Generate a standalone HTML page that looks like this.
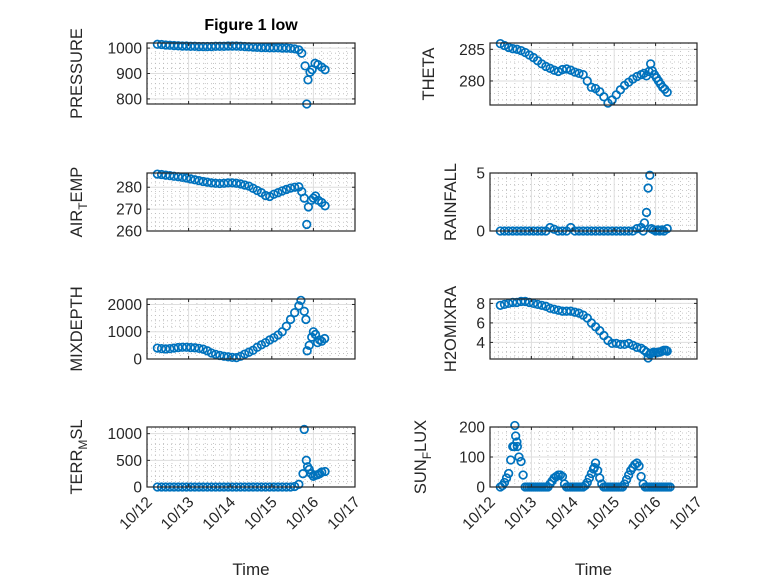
<!DOCTYPE html>
<html><head><meta charset="utf-8"><style>
html,body{margin:0;padding:0;background:#fff;}
svg{display:block;font-family:"Liberation Sans",sans-serif;}
</style></head><body>
<svg id="fig" width="778" height="583" viewBox="0 0 778 583" xmlns="http://www.w3.org/2000/svg">
<rect width="778" height="583" fill="#fff"/>
<text x="251" y="30" text-anchor="middle" font-size="16" font-weight="bold" fill="#000">Figure 1 low</text>
</svg>
<script>
// ---- data (time in days since 10/12 00:00) ----
const xTickLabels = ["10/12","10/13","10/14","10/15","10/16","10/17"];
const baseTimes = [0.25,0.35,0.45,0.55,0.65,0.75,0.85,0.95,1.05,1.15,1.25,1.35,1.45,1.55,1.65,1.75,1.85,1.95,2.05,2.15,2.25,2.35,2.45,2.55,2.65,2.75,2.85,2.95,3.05,3.15,3.25,3.35,3.45,3.55,3.65];

const pressureVals = [1015,1014,1012,1011,1010,1009,1008,1008,1007,1007,1006,1006,1006,1006,1007,1007,1007,1008,1008,1008,1007,1006,1005,1004,1003,1002,1002,1001,1001,1001,1000,1000,999,997,993];
const pressureTailT = [3.72,3.8,3.84,3.87,3.92,3.97,4.04,4.11,4.2,4.28];
const pressureTailV = [980,930,780,875,905,915,940,935,925,915];

const airTempVals = [286,285.8,285.5,285.3,285,284.8,284.5,284.2,283.8,283.4,283,282.6,282.3,282,281.8,281.7,281.8,282,282,281.8,281.5,281,280.5,279.5,278.5,277.5,276.2,275.8,276.8,277.5,278.3,279,279.6,280,280.2];
const airTempTailT = [3.72,3.78,3.84,3.88,3.95,4.0,4.05,4.12,4.2,4.28];
const airTempTailV = [278,275,263,271,274,275,276,274,273,271.5];

const mixDepthVals = [400,380,370,380,400,420,430,430,420,410,390,360,300,220,170,130,100,80,60,50,100,180,250,320,430,520,600,700,780,880,1000,1200,1450,1700,1950];
const mixDepthTailT = [3.7,3.78,3.82,3.85,3.9,3.96,4.0,4.05,4.1,4.15,4.2,4.27];
const mixDepthTailV = [2150,1750,1450,300,500,800,1000,900,600,700,650,750];

const terrVals = [0,0,0,0,0,0,0,0,0,0,0,0,0,0,0,0,0,0,0,0,0,0,0,0,0,0,0,0,0,0,0,0,0,10,50];
const terrTailT = [3.75,3.78,3.83,3.86,3.9,3.95,4.0,4.05,4.1,4.15,4.2,4.28];
const terrTailV = [250,1080,500,380,330,250,200,220,230,250,280,290];

const thetaVals = [285.9,285.6,285.3,285.1,285,284.8,284.5,284.1,283.7,283.2,282.7,282.3,282,281.7,281.5,281.8,281.9,281.7,281.4,281.2,281,280,279,278.8,278.3,277.5,276.5,277,277.8,278.6,279.3,279.8,280.3,280.7,281];
const thetaTailT = [3.72,3.78,3.84,3.88,3.92,3.97,4.02,4.07,4.12,4.17,4.22,4.28];
const thetaTailV = [281.2,280.8,281.5,282.7,281.6,281,280.5,280,279.5,279,278.7,278.2];

const rainVals = [0,0,0,0,0,0,0,0,0,0,0,0,0.3,0.15,0,0,0,0.3,0,0,0,0,0,0,0,0,0,0,0,0,0,0,0,0.2,0.3];
const rainTailT = [3.7,3.73,3.78,3.82,3.86,3.9,3.95,4.0,4.05,4.1,4.15,4.2,4.28];
const rainTailV = [0,0.7,1.6,3.7,4.8,0.2,0.1,0,0.1,0,0.1,0,0.2];

const h2oVals = [7.8,7.9,8.0,8.1,8.1,8.2,8.2,8.1,8.0,7.9,7.8,7.7,7.5,7.4,7.3,7.2,7.2,7.2,7.1,7.0,6.8,6.5,6.0,5.6,5.2,4.7,4.2,3.9,3.9,3.8,3.8,3.9,3.7,3.5,3.4];
const h2oTailT = [3.72,3.78,3.82,3.86,3.9,3.95,4.0,4.05,4.1,4.15,4.2,4.25,4.28];
const h2oTailV = [3.2,3.0,2.4,2.8,2.9,3.0,2.9,3.0,3.0,3.1,3.2,3.2,3.1];

const sunTimes = [0.25,0.30,0.35,0.40,0.45,0.50,0.55,0.60,0.65,0.70,0.75,0.80,0.85,0.90,0.95,1.00,1.05,1.10,1.15,1.20,1.25,1.30,1.35,1.40,1.45,1.50,1.55,1.60,1.65,1.70,1.75,1.80,1.85,1.90,1.95,2.00,2.05,2.10,2.15,2.20,2.25,2.30,2.35,2.40,2.45,2.50,2.55,2.60,2.65,2.70,2.75,2.80,2.85,2.90,2.95,3.00,3.05,3.10,3.15,3.20,3.25,3.30,3.35,3.40,3.45,3.50,3.55,3.60,3.65,3.70,3.75,3.80,3.85,3.90,3.95,4.00,4.05,4.10,4.15,4.20,4.25,4.30,4.35];
const sunVals = [0,5,15,30,45,90,135,205,150,100,85,40,0,0,0,0,0,0,0,0,0,0,0,0,10,20,30,35,40,40,35,10,0,0,0,0,0,0,0,0,0,5,15,30,45,60,80,55,30,10,0,0,0,0,0,0,0,0,0,0,10,25,40,55,65,75,80,70,35,10,0,0,0,0,0,0,0,0,0,0,0,0,0];
const sunExtraT = [0.62,0.66,0.58,2.52];
const sunExtraV = [170,135,135,65];

// ---- layout ----
const NS = "http://www.w3.org/2000/svg";
const svg = document.getElementById('fig');
function mk(tag, attrs, parent){const e=document.createElementNS(NS,tag);for(const k in attrs)e.setAttribute(k,attrs[k]);(parent||svg).appendChild(e);return e;}

const panels = [
 {name:'pressure', x0:147,x1:355,y0:43,y1:104, ymin:780,ymax:1020, ticks:[800,900,1000], minor:20, t:[baseTimes,pressureTailT], v:[pressureVals,pressureTailV], label:['PRESSURE'], lx:82, xt:false},
 {name:'air-temp', x0:147,x1:355,y0:173,y1:231, ymin:260,ymax:286.5, ticks:[260,270,280], minor:2, t:[baseTimes,airTempTailT], v:[airTempVals,airTempTailV], label:['AIR','T','EMP'], lx:82, xt:false},
 {name:'mixdepth', x0:147,x1:355,y0:299,y1:359, ymin:0,ymax:2200, ticks:[0,1000,2000], minor:200, t:[baseTimes,mixDepthTailT], v:[mixDepthVals,mixDepthTailV], label:['MIXDEPTH'], lx:82, xt:false},
 {name:'terr-msl', x0:147,x1:355,y0:427,y1:487, ymin:0,ymax:1125, ticks:[0,500,1000], minor:100, t:[baseTimes,terrTailT], v:[terrVals,terrTailV], label:['TERR','M','SL'], lx:82, xt:true},
 {name:'theta', x0:490,x1:697,y0:43,y1:105, ymin:276.2,ymax:286, ticks:[280,285], minor:1, t:[baseTimes,thetaTailT], v:[thetaVals,thetaTailV], label:['THETA'], lx:434, xt:false},
 {name:'rainfall', x0:490,x1:697,y0:173,y1:231, ymin:0,ymax:5, ticks:[0,5], minor:0.5, t:[baseTimes,rainTailT], v:[rainVals,rainTailV], label:['RAINFALL'], lx:456, xt:false},
 {name:'h2omixra', x0:490,x1:697,y0:299,y1:359, ymin:2.3,ymax:8.45, ticks:[4,6,8], minor:0.5, t:[baseTimes,h2oTailT], v:[h2oVals,h2oTailV], label:['H2OMIXRA'], lx:456, xt:false},
 {name:'sun-flux', x0:490,x1:697,y0:427,y1:487, ymin:0,ymax:200, ticks:[0,100,200], minor:20, t:[sunTimes,sunExtraT], v:[sunVals,sunExtraV], label:['SUN','F','LUX'], lx:426, xt:true}
];

panels.forEach(p=>{
  const g = mk('g',{});
  
  
  const xs = t => p.x0 + (t/5)*(p.x1-p.x0);
  const ys = v => p.y1 - (v-p.ymin)/(p.ymax-p.ymin)*(p.y1-p.y0);
  mk('rect',{x:p.x0,y:p.y0,width:p.x1-p.x0,height:p.y1-p.y0,fill:'#fff'},g);
  for(let t=0.2;t<5;t+=0.2){ if(Math.abs(t-Math.round(t))<0.01) continue;
    mk('line',{x1:xs(t),x2:xs(t),y1:p.y0,y2:p.y1,stroke:'#b8b8b8','stroke-width':0.8,'stroke-dasharray':'1 3'},g);}
  const start = Math.ceil(p.ymin/p.minor)*p.minor;
  for(let v=start; v<p.ymax; v+=p.minor){ if(p.ticks.some(tk=>Math.abs(tk-v)<1e-6)) continue;
    mk('line',{x1:p.x0,x2:p.x1,y1:ys(v),y2:ys(v),stroke:'#b8b8b8','stroke-width':0.8,'stroke-dasharray':'1 3'},g);}
  for(let d=1;d<5;d++) mk('line',{x1:xs(d),x2:xs(d),y1:p.y0,y2:p.y1,stroke:'#dedede','stroke-width':1},g);
  p.ticks.forEach(v=>{ mk('line',{x1:p.x0,x2:p.x1,y1:ys(v),y2:ys(v),stroke:'#dedede','stroke-width':1},g); });
  for(let s=0;s<p.t.length;s++){
    const T=p.t[s], V=p.v[s];
    for(let i=0;i<Math.min(T.length,V.length);i++){
      const c = mk('circle',{cx:xs(T[i]),cy:ys(V[i]),r:3.8,fill:'none',stroke:'#0072BD','stroke-width':1.7},g);
      
      
    }
  }
  mk('rect',{x:p.x0,y:p.y0,width:p.x1-p.x0,height:p.y1-p.y0,fill:'none',stroke:'#262626','stroke-width':1.2},g);
  for(let d=0;d<=5;d++){
    mk('line',{x1:xs(d),x2:xs(d),y1:p.y1,y2:p.y1-3,stroke:'#262626'},g);
    mk('line',{x1:xs(d),x2:xs(d),y1:p.y0,y2:p.y0+3,stroke:'#262626'},g);
    if(p.xt){
      const tx = mk('text',{transform:`translate(${xs(d)+6},${p.y1+16}) rotate(-45)`,'text-anchor':'end','font-size':15.5,fill:'#262626'},g);
      tx.textContent = xTickLabels[d];
      
      
    }
  }
  p.ticks.forEach(v=>{
    mk('line',{x1:p.x0,x2:p.x0+3,y1:ys(v),y2:ys(v),stroke:'#262626'},g);
    mk('line',{x1:p.x1,x2:p.x1-3,y1:ys(v),y2:ys(v),stroke:'#262626'},g);
    const ty = mk('text',{x:p.x0-5,y:ys(v)+5.5,'text-anchor':'end','font-size':15.5,fill:'#262626'},g);
    ty.textContent = String(v);
    
    
  });
  const cy = (p.y0+p.y1)/2;
  const yl = mk('text',{transform:`translate(${p.lx},${cy}) rotate(-90)`,'text-anchor':'middle','font-size':16.5,fill:'#262626'},g);
  
  
  if(p.label.length===1){ yl.textContent=p.label[0]; }
  else {
    const a=mk('tspan',{},yl); a.textContent=p.label[0];
    const b=mk('tspan',{dy:5,'font-size':12},yl); b.textContent=p.label[1];
    const c=mk('tspan',{dy:-5},yl); c.textContent=p.label[2];
  }
  if(p.xt){
    const xl = mk('text',{x:(p.x0+p.x1)/2,y:575,'text-anchor':'middle','font-size':17,fill:'#262626'},g);
    xl.textContent='Time';
    
    
  }
});
</script>
</body></html>
